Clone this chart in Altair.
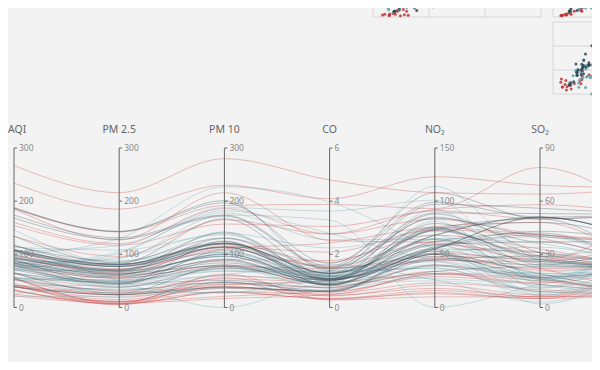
import altair as alt
import pandas as pd

cities = ["北京", "上海", "广州"]
city_colors = ["#c23531", "#2f4554", "#61a0a8"]

dim_names = ["AQI", "PM 2.5", "PM 10", "CO", "NO₂", "SO₂"]
dim_max = [300, 300, 300, 6, 150, 90]
dim_ticks = [[0, 100, 200, 300], [0, 100, 200, 300], [0, 100, 200, 300],
             [0, 2, 4, 6], [0, 50, 100, 150], [0, 30, 60, 90]]
level_names = ["优", "良", "轻度污染", "中度污染", "重度污染", "严重污染"]

# Beijing
bj_aqi = [55, 25, 56, 33, 42, 82, 74, 78, 267, 185, 39, 41, 64, 108, 108, 33, 94, 186, 57, 22, 39, 94, 99, 31, 42, 154, 234, 160, 134, 52, 46]
bj_pm25 = [9, 11, 7, 7, 24, 58, 49, 55, 216, 127, 19, 11, 38, 79, 63, 6, 66, 142, 31, 8, 15, 69, 73, 12, 27, 117, 185, 120, 96, 24, 5]
bj_pm10 = [56, 21, 63, 29, 44, 90, 77, 80, 280, 216, 38, 40, 74, 120, 116, 29, 110, 192, 54, 17, 36, 114, 110, 30, 43, 157, 230, 186, 165, 60, 49]
bj_co = [0.46, 0.65, 0.3, 0.33, 0.76, 1.77, 1.46, 1.29, 4.8, 2.52, 0.57, 0.43, 1.04, 1.7, 1.48, 0.34, 1.54, 3.88, 0.96, 0.48, 0.61, 2.08, 2.43, 0.5, 1, 3.05, 4.09, 2.77, 2.76, 1.03, 0.28]
bj_no2 = [18, 34, 14, 16, 40, 68, 48, 59, 108, 61, 31, 21, 46, 75, 44, 13, 62, 93, 32, 23, 29, 73, 76, 32, 53, 92, 123, 91, 83, 50, 10]
bj_so2 = [6, 9, 5, 6, 16, 33, 27, 29, 64, 27, 15, 7, 22, 41, 26, 5, 31, 79, 14, 10, 13, 39, 48, 16, 22, 58, 69, 50, 41, 21, 6]
bj_level = ["良", "优", "良", "优", "优", "良", "良", "良", "重度污染", "中度污染", "优", "优", "良", "轻度污染", "轻度污染", "优", "良", "中度污染", "良", "优", "优", "良", "良", "优", "优", "中度污染", "重度污染", "中度污染", "轻度污染", "良", "优"]

# Shanghai
sh_aqi = [91, 65, 83, 109, 106, 109, 106, 89, 53, 80, 117, 99, 95, 116, 108, 134, 79, 71, 97, 84, 87, 104, 87, 168, 65, 39, 39, 93, 188, 174, 187]
sh_pm25 = [45, 27, 60, 81, 77, 81, 77, 65, 33, 55, 81, 71, 69, 87, 80, 83, 43, 46, 71, 57, 63, 77, 62, 128, 45, 24, 24, 68, 143, 131, 143]
sh_pm10 = [125, 78, 84, 121, 114, 121, 114, 78, 47, 80, 124, 142, 130, 131, 121, 167, 107, 89, 113, 91, 101, 119, 100, 172, 51, 38, 39, 96, 197, 174, 201]
sh_co = [0.82, 0.86, 1.09, 1.28, 1.07, 1.28, 1.07, 0.86, 0.64, 1.01, 1.03, 1.1, 1.28, 1.47, 1.3, 1.16, 1.05, 0.86, 1.17, 0.85, 0.9, 1.09, 1, 1.49, 0.74, 0.61, 0.59, 1.05, 1.66, 1.55, 1.39]
sh_no2 = [34, 45, 73, 68, 55, 68, 55, 51, 50, 75, 45, 62, 74, 84, 85, 57, 59, 64, 88, 55, 56, 73, 72, 97, 39, 47, 50, 79, 99, 108, 89]
sh_so2 = [23, 29, 27, 51, 51, 51, 51, 26, 17, 24, 24, 42, 50, 40, 37, 43, 37, 25, 31, 31, 41, 48, 28, 56, 17, 17, 19, 29, 51, 50, 53]
sh_level = ["良", "良", "良", "轻度污染", "轻度污染", "轻度污染", "轻度污染", "良", "良", "良", "轻度污染", "良", "良", "轻度污染", "轻度污染", "轻度污染", "良", "良", "良", "良", "良", "轻度污染", "良", "中度污染", "良", "优", "优", "良", "中度污染", "中度污染", "中度污染"]

# Guangzhou
gz_aqi = [26, 85, 78, 21, 41, 56, 64, 55, 76, 91, 84, 64, 70, 77, 109, 73, 54, 51, 91, 73, 73, 84, 93, 99, 146, 113, 81, 56, 82, 106, 118]
gz_pm25 = [37, 62, 38, 21, 42, 52, 30, 48, 85, 81, 39, 51, 69, 105, 68, 68, 27, 61, 71, 102, 50, 94, 77, 130, 84, 108, 48, 48, 92, 116, 50]
gz_pm10 = [27, 71, 74, 36, 46, 69, 28, 74, 113, 104, 60, 101, 120, 178, 87, 97, 47, 97, 121, 182, 76, 140, 104, 227, 139, 137, 62, 68, 174, 188, 0]
gz_co = [1.163, 1.195, 1.363, 0.634, 0.915, 1.067, 0.924, 1.236, 1.237, 1.041, 0.964, 0.862, 1.198, 2.549, 0.996, 0.905, 0.592, 0.811, 1.374, 2.787, 0.717, 2.238, 1.165, 3.97, 1.094, 1.481, 1.619, 1.336, 3.29, 3.628, 1.383]
gz_no2 = [27, 60, 37, 40, 81, 92, 51, 75, 114, 56, 25, 58, 65, 64, 74, 51, 53, 65, 43, 44, 31, 68, 53, 55, 40, 48, 26, 37, 0, 101, 76]
gz_so2 = [13, 8, 7, 9, 13, 16, 2, 26, 27, 40, 11, 23, 36, 16, 29, 34, 12, 19, 18, 19, 20, 18, 7, 15, 17, 15, 3, 9, 13, 16, 11]
gz_level = ["优", "良", "良", "优", "优", "良", "良", "良", "良", "良", "良", "良", "良", "良", "轻度污染", "良", "良", "良", "良", "良", "良", "良", "良", "良", "轻度污染", "轻度污染", "良", "良", "良", "轻度污染", "轻度污染"]

city_cols = {
    "北京": [bj_aqi, bj_pm25, bj_pm10, bj_co, bj_no2, bj_so2, bj_level],
    "广州": [gz_aqi, gz_pm25, gz_pm10, gz_co, gz_no2, gz_so2, gz_level],
    "上海": [sh_aqi, sh_pm25, sh_pm10, sh_co, sh_no2, sh_so2, sh_level],
}

# ---- tables built from the arrays ----
line_rows, wide_rows = [], []
for city, cols in city_cols.items():
    for d in range(len(cols[0])):
        rid = f"{city}-{d + 1}"
        for k in range(6):
            line_rows.append({"id": rid, "city": city, "k": k, "v": cols[k][d] / dim_max[k]})
        lvl = level_names.index(cols[6][d])
        line_rows.append({"id": rid, "city": city, "k": 6, "v": (lvl + 0.5) / len(level_names)})
        wide_rows.append({"city": city, "aqi": cols[0][d], "pm25": cols[1][d], "pm10": cols[2][d],
                          "co": cols[3][d], "no2": cols[4][d], "so2": cols[5][d]})
lines_df = pd.DataFrame(line_rows)
wide_df = pd.DataFrame(wide_rows)

axes_df = pd.DataFrame({"k": list(range(6)), "name": dim_names, "y0": 0.0, "y1": 1.0})
tick_rows = []
for k, ticks in enumerate(dim_ticks):
    for t in ticks:
        tick_rows.append({"k": k, "t": t / dim_max[k], "label": str(t)})
ticks_df = pd.DataFrame(tick_rows)

# ---- layout (plot-area pixels; plot origin is page (8, 8)) ----
SP = 105.2
PX = alt.Scale(domain=[0, 6], range=[6, 6 + 6 * SP], nice=False, zero=False)
PY = alt.Scale(domain=[0, 1], range=[299.5, 140], nice=False, zero=False)
color = alt.Color("city:N", scale=alt.Scale(domain=cities, range=city_colors), legend=None)
FONT = "Noto Sans"
AXIS_COLOR = "#666666"

lines = alt.Chart(lines_df).mark_line(interpolate="monotone", strokeWidth=1, opacity=0.3, clip=True).encode(
    x=alt.X("k:Q", scale=PX, axis=None),
    y=alt.Y("v:Q", scale=PY, axis=None),
    detail="id:N",
    color=color,
)
axis_lines = alt.Chart(axes_df).mark_rule(color=AXIS_COLOR, strokeWidth=1).encode(
    x=alt.X("k:Q", scale=PX, axis=None),
    y=alt.Y("y0:Q", scale=PY, axis=None),
    y2="y1:Q",
)
axis_names = alt.Chart(axes_df).transform_filter("datum.k > 0").mark_text(
    align="center", baseline="middle", dy=-18, fontSize=10.5, font=FONT, color="#666666").encode(
    x=alt.X("k:Q", scale=PX, axis=None),
    y=alt.Y("y1:Q", scale=PY, axis=None),
    text="name:N",
)
first_name = alt.Chart(axes_df).transform_filter("datum.k == 0").mark_text(
    align="left", baseline="middle", dx=-6, dy=-18, fontSize=10.5, font=FONT, color="#666666").encode(
    x=alt.X("k:Q", scale=PX, axis=None),
    y=alt.Y("y1:Q", scale=PY, axis=None),
    text="name:N",
)
tick_marks = alt.Chart(ticks_df).mark_rule(color=AXIS_COLOR, strokeWidth=1, x2Offset=3).encode(
    x=alt.X("k:Q", scale=PX, axis=None),
    x2="k:Q",
    y=alt.Y("t:Q", scale=PY, axis=None),
)
tick_labels = alt.Chart(ticks_df).mark_text(align="left", baseline="middle", dx=5, fontSize=8.5,
                                            font=FONT, color="#888888").encode(
    x=alt.X("k:Q", scale=PX, axis=None),
    y=alt.Y("t:Q", scale=PY, axis=None),
    text="label:N",
)


def panel(xf, yf, xdom, xrng, ydom, yrng, xticks, yticks):
    xs = alt.Scale(domain=xdom, range=xrng, nice=False, zero=False)
    ys = alt.Scale(domain=ydom, range=yrng, nice=False, zero=False)
    vg = pd.DataFrame({"xt": xticks, "y0": ydom[0], "y1": ydom[1]})
    hg = pd.DataFrame({"yt": yticks, "x0": xdom[0], "x1": xdom[1]})
    vlayer = alt.Chart(vg).mark_rule(color="#d6d6d6", strokeWidth=1, clip=True).encode(
        x=alt.X("xt:Q", scale=xs, axis=None), y=alt.Y("y0:Q", scale=ys, axis=None), y2="y1:Q")
    hlayer = alt.Chart(hg).mark_rule(color="#d6d6d6", strokeWidth=1, clip=True).encode(
        y=alt.Y("yt:Q", scale=ys, axis=None), x=alt.X("x0:Q", scale=xs, axis=None), x2="x1:Q")
    pts = alt.Chart(wide_df).mark_circle(size=9, opacity=0.85, clip=True).encode(
        x=alt.X(f"{xf}:Q", scale=xs, axis=None),
        y=alt.Y(f"{yf}:Q", scale=ys, axis=None),
        color=color,
    )
    return [vlayer, hlayer, pts]


pm_ticks = [0, 100, 200, 300]
co_ticks = [0, 2, 4, 6]
p1 = panel("pm10", "pm25", [0, 300], [365, 533], [0, 300], [9, -63], pm_ticks, pm_ticks)
p2u = panel("co", "pm25", [0, 6], [545, 713], [0, 300], [9, -63], co_ticks, pm_ticks)
p2l = panel("co", "pm10", [0, 6], [545, 713], [0, 300], [86, 14], co_ticks, pm_ticks)

chart = alt.layer(
    *p1, *p2u, *p2l, lines, axis_lines, tick_marks, tick_labels, axis_names, first_name
).resolve_scale(x="independent", y="independent").properties(
    width=584, height=354, background="#f3f3f3", padding=0, autosize="none"
).configure_view(stroke=None)

chart.save("out.html", embed_options={"renderer": "svg", "actions": False})
